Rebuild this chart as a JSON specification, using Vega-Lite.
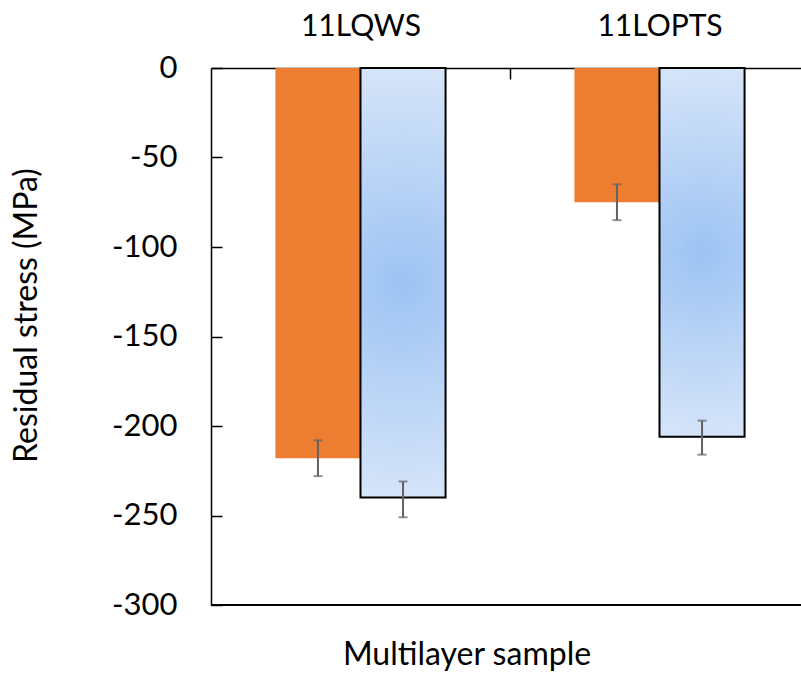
{
  "$schema": "https://vega.github.io/schema/vega-lite/v6.json",
  "width": 590,
  "height": 537,
  "autosize": {"type": "none"},
  "padding": {"left": 211, "top": 68, "right": 0, "bottom": 68},
  "background": "white",
  "config": {"view": {"stroke": null}, "font": "Lato", "axis": {"grid": false}},
  "title": {"text": "Multilayer sample", "orient": "bottom", "frame": "group", "anchor": "middle", "offset": 45, "baseline": "alphabetic", "fontSize": 32, "font": "Lato", "fontWeight": "normal", "color": "black", "dx": -39},
  "data": {"values": [
    {"sample": "11LQWS", "series": "A", "value": -218, "lo": -228, "hi": -208},
    {"sample": "11LQWS", "series": "B", "value": -240, "lo": -251, "hi": -231},
    {"sample": "11LOPTS", "series": "A", "value": -75, "lo": -85, "hi": -65},
    {"sample": "11LOPTS", "series": "B", "value": -206, "lo": -216, "hi": -197}
  ]},
  "layer": [
    {
      "encoding": {
        "x": {"field": "sample", "type": "nominal", "sort": ["11LQWS", "11LOPTS"],
          "scale": {"range": [0, 598], "paddingInner": 0.431, "paddingOuter": 0.2155},
          "axis": {"orient": "top", "title": null, "tickOffset": 149.5, "labelOffset": -149.5, "tickSize": -11, "labelPadding": 44, "labelBaseline": "alphabetic", "labelFontSize": 30, "labelFont": "Lato", "labelColor": "black", "labelAngle": 0, "domainColor": "black", "domainWidth": 1.5, "tickColor": "black", "tickWidth": 1.5}},
        "xOffset": {"field": "series", "type": "nominal", "scale": {"domain": ["A", "B"], "paddingInner": 0, "paddingOuter": 0}}
      },
      "layer": [
        {
          "transform": [{"filter": "datum.series === 'A'"}],
          "mark": {"type": "bar", "color": "#ED7D31"},
          "encoding": {"y": {"field": "value", "type": "quantitative",
            "scale": {"domain": [-300, 0]},
            "axis": {"title": "Residual stress (MPa)", "values": [0, -50, -100, -150, -200, -250, -300], "labelExpr": "replace(datum.label, '\u2212', '-')", "ticks": true, "tickSize": -11, "tickColor": "black", "tickWidth": 1.5, "domainColor": "black", "domainWidth": 1.5, "labelFontSize": 31, "labelFont": "Lato", "labelColor": "black", "labelPadding": 45, "titleFontSize": 32, "titleFont": "Lato", "titleFontWeight": "normal", "titleColor": "black", "titleX": -175, "titleY": 247, "titleBaseline": "alphabetic"}}}
        },
        {
          "transform": [{"filter": "datum.series === 'B'"}],
          "mark": {"type": "bar", "stroke": "black", "strokeWidth": 2,
            "fill": {"gradient": "radial", "x1": 0.5, "y1": 0.5, "r1": 0, "x2": 0.5, "y2": 0.5, "r2": 0.6,
              "stops": [{"offset": 0, "color": "#9DC3F3"}, {"offset": 1, "color": "#E0EBFA"}]}},
          "encoding": {"y": {"field": "value", "type": "quantitative"}}
        },
        {
          "mark": {"type": "rule", "color": "#626262", "strokeWidth": 2},
          "encoding": {"y": {"field": "lo", "type": "quantitative"}, "y2": {"field": "hi"}}
        },
        {
          "mark": {"type": "tick", "color": "#626262", "thickness": 2, "size": 9},
          "encoding": {"y": {"field": "lo", "type": "quantitative"}}
        },
        {
          "mark": {"type": "tick", "color": "#626262", "thickness": 2, "size": 9},
          "encoding": {"y": {"field": "hi", "type": "quantitative"}}
        }
      ]
    },
    {
      "mark": {"type": "rule", "color": "black", "strokeWidth": 1.5},
      "encoding": {"y": {"datum": -300}}
    }
  ]
}
